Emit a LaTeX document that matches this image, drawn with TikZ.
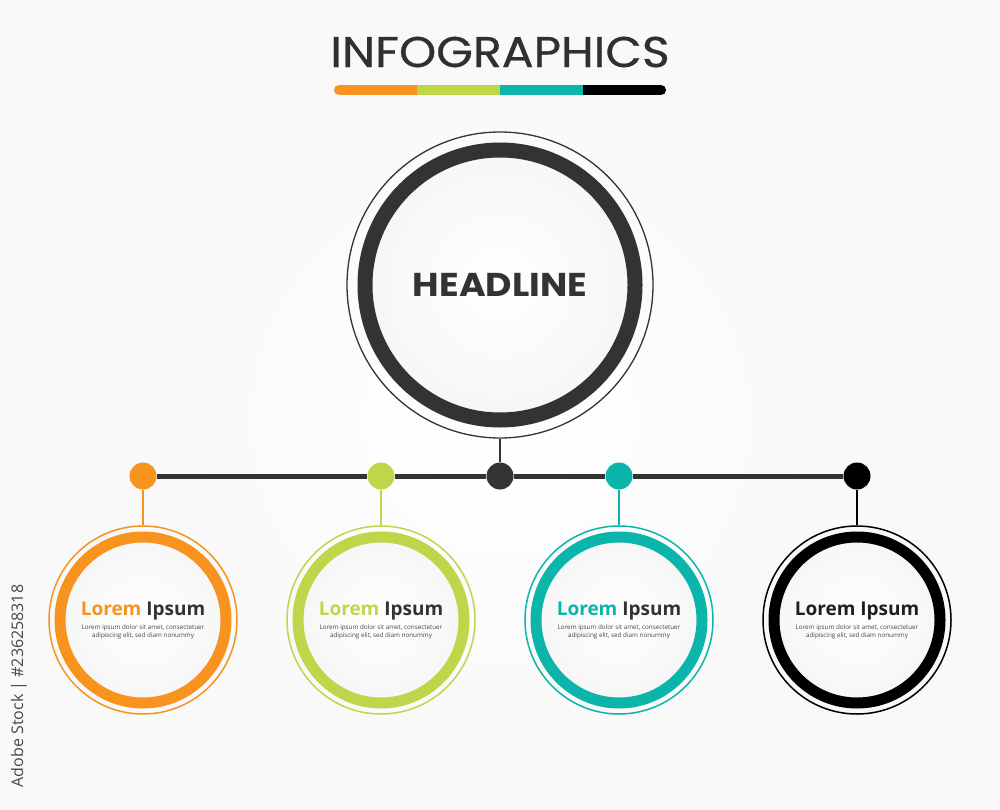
\documentclass[tikz,border=0pt]{standalone}
\usepackage{fontspec}
\setmainfont{Open Sans}
\newfontfamily\titlefont[FakeBold=0.6]{Poppins}
\newfontfamily\headfont{Poppins}
\definecolor{dk}{HTML}{333333}
\definecolor{org}{HTML}{F7931E}
\definecolor{grn}{HTML}{BED64A}
\definecolor{tl}{HTML}{0BB5AA}
\definecolor{blk}{HTML}{000000}
\definecolor{bodytxt}{HTML}{444444}
\pgfdeclareradialshading{disk}{\pgfpoint{0bp}{0bp}}{color(0bp)=(white); color(30bp)=(white!96!black); color(45bp)=(white!91!black); color(50bp)=(white!78!black)}
\tikzset{
  dotnode/.style={circle, inner sep=0pt, minimum size=27pt, fill=#1},
  outerring/.style={circle, draw=#1, line width=1.5pt, inner sep=0pt, minimum size=188pt},
  loremtitle/.style={font=\fontsize{19}{19}\selectfont\bfseries, text=dk, inner sep=0pt, anchor=base},
  loremtext/.style={font=\fontsize{6.3}{8}\selectfont, text=bodytxt, align=center, inner sep=0pt},
  barseg/.style={line width=10pt, #1}
}
\begin{document}
\begin{tikzpicture}[x=1pt,y=-1pt]
\useasboundingbox (0,0) rectangle (1000,810);
\fill[white!97.5!black] (0,0) rectangle (1000,810);
\shade[inner color=white, outer color=white!97.5!black] (150,80) rectangle (850,760);

% title
\node[font=\titlefont\fontsize{43}{43}\selectfont, text=dk!95!black, inner sep=0pt, xscale=1.1] (title) at (500,52) {INFOGRAPHICS};
\draw[barseg=org, line cap=round] (339,90) -- (420,90);
\draw[barseg=blk, line cap=round] (580,90) -- (661,90);
\draw[barseg=grn] (417,90) -- (500,90);
\draw[barseg=tl] (500,90) -- (583,90);

% headline
\shade[shading=disk] (500,285) circle[radius=128pt];
\draw[dk, line width=15pt] (500,285) circle[radius=135pt];
\node[circle, draw=dk, line width=1.3pt, inner sep=0pt, minimum size=306pt] (head) at (500,285) {};
\node[font=\headfont\fontsize{33}{33}\selectfont\bfseries, text=dk, inner sep=0pt, xscale=1.1] (headtxt) at (head.center) {HEADLINE};

% small circles backgrounds
\foreach \x/\c in {143/org, 381/grn, 619/tl, 857/blk}{
  \shade[shading=disk] (\x,620) circle[radius=78pt];
  \draw[\c, line width=11pt] (\x,620) circle[radius=83pt];
}

% dots
\node[dotnode=org] (d1) at (143,476) {};
\node[dotnode=grn] (d2) at (381,476) {};
\node[dotnode=dk]  (dc) at (500,476) {};
\node[dotnode=tl]  (d3) at (619,476) {};
\node[dotnode=blk] (d4) at (857,476) {};

% circles
\node[outerring=org] (c1) at (143,620) {};
\node[outerring=grn] (c2) at (381,620) {};
\node[outerring=tl]  (c3) at (619,620) {};
\node[outerring=blk] (c4) at (857,620) {};

% connectors
\draw[dk, line width=5pt] (d1) -- (d2) -- (dc) -- (d3) -- (d4);
\draw[dk, line width=2pt] (head) -- (dc);
\draw[org, line width=1.6pt] (d1) -- (c1);
\draw[grn, line width=1.6pt] (d2) -- (c2);
\draw[tl,  line width=1.6pt] (d3) -- (c3);
\draw[blk, line width=1.6pt] (d4) -- (c4);

% texts
\node[loremtitle] (t1) at (143,615) {\textcolor{org}{Lorem} Ipsum};
\node[loremtitle] (t2) at (381,615) {\textcolor{grn}{Lorem} Ipsum};
\node[loremtitle] (t3) at (619,615) {\textcolor{tl}{Lorem} Ipsum};
\node[loremtitle, text=black!88] (t4) at (857,615) {Lorem Ipsum};
\foreach \x/\n in {143/1, 381/2, 619/3, 857/4}{
  \node[loremtext] (s\n) at (\x,631.5) {Lorem ipsum dolor sit amet, consectetuer\\adipiscing elit, sed diam nonummy};
}

% side label
\node[rotate=90, font=\fontsize{16}{16}\selectfont, text=dk!90, inner sep=0pt] (wm) at (19,686) {Adobe Stock | \#236258318};
\end{tikzpicture}
\end{document}
